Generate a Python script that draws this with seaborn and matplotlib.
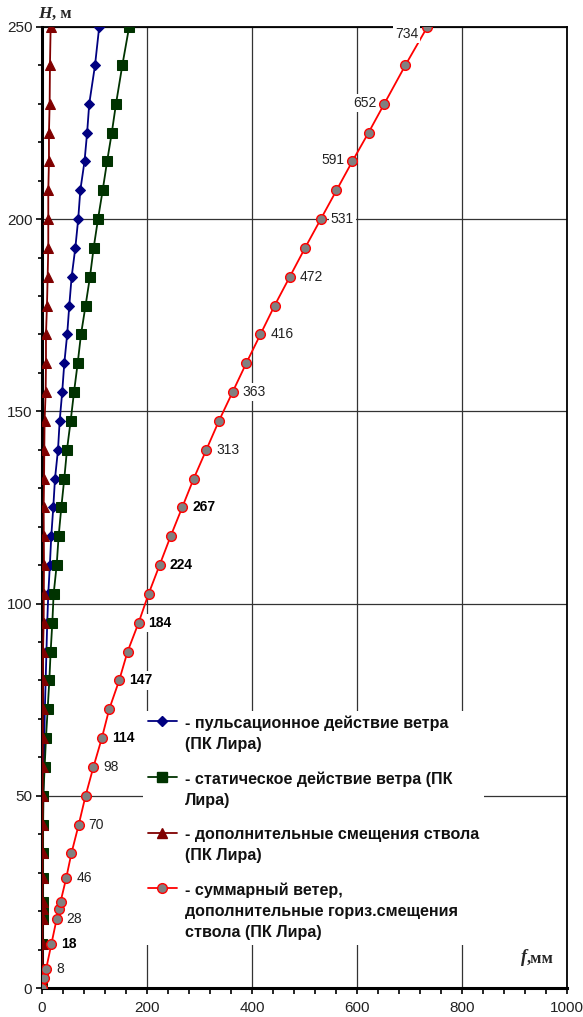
import numpy as np
import pandas as pd
import matplotlib
matplotlib.use("Agg")
import matplotlib.pyplot as plt
from matplotlib.ticker import MultipleLocator
from matplotlib.lines import Line2D
import seaborn as sns

# ---------------- data ----------------
heights = [0, 2.5, 5, 11.5, 18, 20.5, 22.5, 28.5, 35, 42.5, 50, 57.5, 65, 72.5, 80,
           87.5, 95, 102.5, 110, 117.5, 125, 132.5, 140, 147.5, 155, 162.5, 170,
           177.5, 185, 192.5, 200, 207.5, 215, 222.5, 230, 240, 250]
pulse = [0, 0, 0.1, 0.3, 0.5, 0.6, 0.7, 1.0, 1.5, 2.0, 2.5, 3.5, 4.5, 5.5, 7,
         8.5, 10, 12, 15, 17.7, 21.5, 24.8, 30.5, 33.7, 38.5, 42.5, 48, 52, 56.5,
         63.5, 69, 73, 81, 86, 90, 101, 109]
static = [0, 0.2, 0.4, 0.8, 1.2, 1.4, 1.5, 1.8, 2.0, 2.2, 2.5, 5.1, 7.6, 10.8, 14,
          16.5, 19.7, 22.2, 28, 31.7, 36.8, 42.5, 47.6, 54.6, 61, 68, 74.3, 83,
          91.4, 98.4, 106.7, 115.6, 124, 133, 141, 153, 166]
extra = [0, 0.5, 1, 1, 1, 1, 1, 1, 1, 1.2, 1.3, 1.3, 1.6, 1.6, 2, 1.9, 3.2, 3.5,
         3.8, 3.5, 3.2, 4, 4.4, 5, 7, 7.6, 7.6, 9.5, 10.8, 12, 12, 12, 13.3, 13.3,
         14.6, 15.2, 16.5]
total = [0, 3, 8, 18, 28, 31.5, 35.5, 46, 56, 70, 83, 98, 114, 128, 147, 163, 184,
         203, 224, 245, 267, 289, 313, 337, 363, 389, 416, 443, 472, 501, 531, 561,
         591, 622, 652, 692, 734]

# labelled points of the total series (height -> label)
label_heights = [5, 11.5, 18, 28.5, 42.5, 57.5, 65, 80, 95, 110, 125, 140, 155,
                 170, 185, 200, 215, 230, 250]
label_texts = ["8", "18", "28", "46", "70", "98", "114", "147", "184", "224", "267",
               "313", "363", "416", "472", "531", "591", "652", "734"]
bold_labels = {"18", "114", "147", "184", "224", "267"}
left_labels = {"591", "652", "734"}

series_names = [
    "- пульсационное действие ветра\n(ПК Лира)",
    "- статическое действие ветра (ПК\nЛира)",
    "- дополнительные смещения ствола\n(ПК Лира)",
    "- суммарный ветер,\nдополнительные гориз.смещения\nствола (ПК Лира)",
]

df = pd.DataFrame({"H": heights, "pulse": pulse, "static": static,
                   "extra": extra, "total": total})

# ---------------- style ----------------
sns.set_style("white")
plt.rcParams["font.family"] = ["Liberation Sans", "DejaVu Sans"]

fig = plt.figure(figsize=(5.83, 10.17), dpi=100)
ax = fig.add_axes([0.072, 0.0285, 0.9005, 0.945])

styles = [
    ("pulse", dict(color="#000080", marker="D", markersize=5.5,
                   markerfacecolor="#000080", markeredgecolor="#000080")),
    ("static", dict(color="#003300", marker="s", markersize=6.5,
                    markerfacecolor="#003300", markeredgecolor="#003300")),
    ("extra", dict(color="#800000", marker="^", markersize=7.5,
                   markerfacecolor="#800000", markeredgecolor="#800000")),
    ("total", dict(color="#FF0000", marker="o", markersize=7,
                   markerfacecolor="#808080", markeredgecolor="#FF0000",
                   markeredgewidth=1.0)),
]

handles = []
for i, (col, st) in enumerate(styles):
    sns.lineplot(data=df, x=col, y="H", sort=False, estimator=None, ax=ax,
                 linewidth=1.3, zorder=4 + i, legend=False, **st)
    handles.append(Line2D([], [], linewidth=1.3, **st))

ax.set_xlim(0, 1000)
ax.set_ylim(0, 250)
ax.xaxis.set_major_locator(MultipleLocator(200))
ax.xaxis.set_minor_locator(MultipleLocator(40))
ax.yaxis.set_major_locator(MultipleLocator(50))
ax.yaxis.set_minor_locator(MultipleLocator(10))
ax.grid(True, which="major", color="#333333", linewidth=0.9)
ax.set_axisbelow(True)
ax.tick_params(axis="both", which="both", direction="out", length=4, width=1.2,
               colors="black", labelsize=11, labelcolor="#222222")
ax.tick_params(axis="y", which="minor", length=3)
ax.tick_params(axis="x", which="both", bottom=True, pad=5)
ax.tick_params(axis="y", which="both", left=True, pad=3)
ax.set_xlabel("")
ax.set_ylabel("")

for side in ["left", "bottom"]:
    ax.spines[side].set_linewidth(2.2)
    ax.spines[side].set_color("black")
for side in ["top", "right"]:
    ax.spines[side].set_linewidth(1.3)
    ax.spines[side].set_color("black")

# ---------------- data labels ----------------
for h, txt in zip(label_heights, label_texts):
    xv = total[heights.index(h)]
    if txt in left_labels:
        off = (-9, -7) if txt == "734" else (-8, 1)
        ha = "right"
    else:
        off = (10, 0)
        ha = "left"
    ax.annotate(txt, xy=(xv, h), xytext=off, textcoords="offset pixels",
                ha=ha, va="center", fontsize=10,
                fontweight="bold" if txt in bold_labels else "normal",
                color="#222222" if txt not in bold_labels else "black",
                bbox=dict(facecolor="white", edgecolor="none", pad=1.5),
                zorder=10, annotation_clip=False)

# ---------------- legend ----------------
leg = ax.legend(handles, series_names, loc="upper left",
                bbox_to_anchor=(0.178, 0.297), frameon=True, fancybox=False,
                framealpha=1, edgecolor="none", facecolor="white",
                prop=dict(weight="bold", size=11.6), handlelength=1.75,
                handletextpad=0.55, labelspacing=1.2, borderpad=0.3)
for t in leg.get_texts():
    t.set_linespacing(1.5)
    t.set_color("#111111")
# align each handle with the first line of its label
try:
    for col in leg._legend_handle_box.get_children():
        for item in col.get_children():
            item.align = "top"
except Exception:
    pass
leg.set_zorder(12)

# ---------------- axis titles ----------------
t1 = fig.text(38 / 583, 1 - 14 / 1017, "H", fontfamily="Liberation Serif",
              fontweight="bold", fontstyle="italic", fontsize=12.5,
              va="center", ha="left")
fig.canvas.draw()
ax.annotate(", м", xy=(1, 0), xycoords=t1, va="bottom", ha="left",
            fontfamily="Liberation Serif", fontweight="bold", fontsize=12)
t2 = fig.text(521 / 583, 1 - 958 / 1017, "f", fontfamily="Liberation Serif",
              fontweight="bold", fontstyle="italic", fontsize=13,
              va="center", ha="left")
fig.canvas.draw()
ax.annotate(",мм", xy=(1, 0), xycoords=t2, va="bottom", ha="left",
            fontfamily="Liberation Serif", fontweight="bold", fontsize=12)

fig.savefig("out.png", dpi=100)
